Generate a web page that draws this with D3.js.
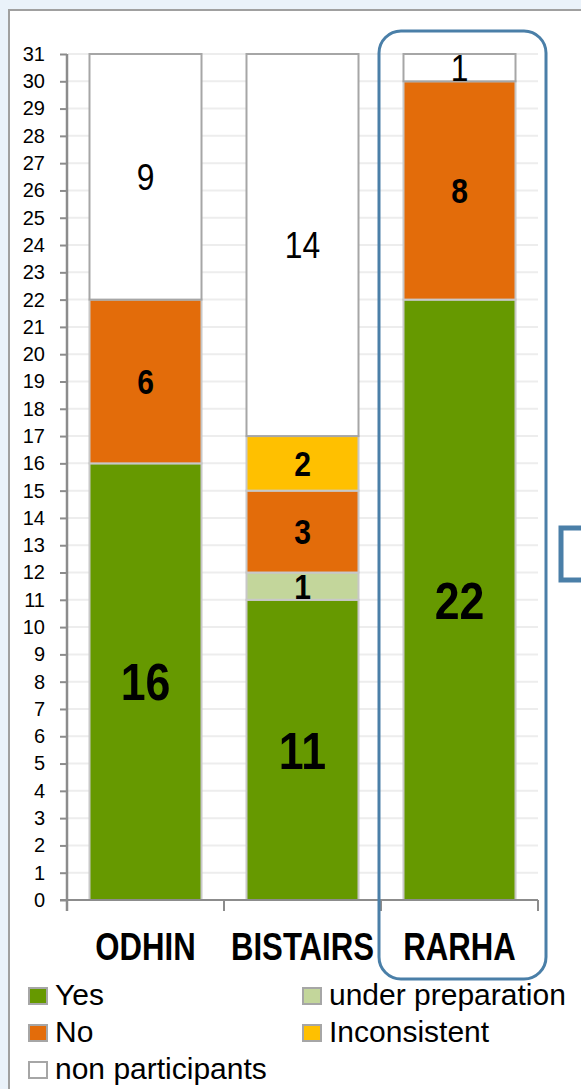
<!DOCTYPE html>
<html><head><meta charset="utf-8">
<script src="https://cdn.jsdelivr.net/npm/d3@7"></script>
<style>
html,body{margin:0;padding:0;background:#EAF2FA;}
svg{display:block;}
</style></head>
<body>
<svg id="chart" width="581" height="1089"></svg>
<script>
const categories = ["ODHIN", "BISTAIRS", "RARHA"];
const seriesNames = ["Yes", "under preparation", "No", "Inconsistent", "non participants"];
const yesValues = [16, 11, 22];
const underPrepValues = [0, 1, 0];
const noValues = [6, 3, 8];
const inconsistentValues = [0, 2, 0];
const nonParticipantValues = [9, 14, 1];
const yTickValues = d3.range(0, 32);
const seriesColors = ["#669900", "#C3D69B", "#E36C0A", "#FFC000", "#FFFFFF"];

const rows = categories.map((c, i) => ({
  category: c,
  "Yes": yesValues[i],
  "under preparation": underPrepValues[i],
  "No": noValues[i],
  "Inconsistent": inconsistentValues[i],
  "non participants": nonParticipantValues[i]
}));

const svg = d3.select("#chart");
const sans = "'Liberation Sans', Arial, sans-serif";

// panel
svg.append("rect").attr("x", 9).attr("y", 10).attr("width", 620).attr("height", 1120)
  .attr("fill", "#FFFFFF").attr("stroke", "#A0A0A0").attr("stroke-width", 2);

const x = d3.scaleBand().domain(categories).range([67, 538]).paddingInner(0.2866).paddingOuter(0.1433);
const y = d3.scaleLinear().domain([0, 31]).range([900, 54]);
const color = d3.scaleOrdinal().domain(seriesNames).range(seriesColors);

// gridlines
svg.append("g").selectAll("line").data(yTickValues.filter(v => v > 0)).join("line")
  .attr("x1", 68).attr("x2", 538).attr("y1", d => y(d)).attr("y2", d => y(d))
  .attr("stroke", "#EDEDED").attr("stroke-width", 2);

// stacked bars
const stacked = d3.stack().keys(seriesNames)(rows);
const layers = svg.append("g").selectAll("g").data(stacked).join("g")
  .attr("fill", d => color(d.key));
layers.selectAll("rect").data(d => d.filter(s => s[1] - s[0] > 0)).join("rect")
  .attr("x", d => x(d.data.category))
  .attr("width", x.bandwidth())
  .attr("y", d => y(d[1]))
  .attr("height", d => y(d[0]) - y(d[1]))
  .attr("stroke", function() { return d3.select(this.parentNode).datum().key === "non participants" ? "#A6A6A6" : "#C8C8C8"; })
  .attr("stroke-width", 2);

// labels (condensed look via horizontal scale)
const labelStyle = {
  "Yes": {size: 52, weight: "bold"},
  "under preparation": {size: 35, weight: "bold"},
  "No": {size: 35, weight: "bold"},
  "Inconsistent": {size: 35, weight: "bold"},
  "non participants": {size: 37, weight: "normal"}
};
stacked.forEach(layer => {
  const st = labelStyle[layer.key];
  svg.append("g").selectAll("text").data(layer.filter(s => s[1] - s[0] > 0)).join("text")
    .attr("transform", d => `translate(${x(d.data.category) + x.bandwidth() / 2},${(y(d[0]) + y(d[1])) / 2 + st.size * 0.36}) scale(0.86,1)`)
    .attr("text-anchor", "middle")
    .attr("font-family", sans)
    .attr("font-size", st.size)
    .attr("font-weight", st.weight)
    .attr("fill", "#000")
    .text(d => d[1] - d[0]);
});

// y axis
const yAxis = svg.append("g").attr("transform", "translate(67,0)")
  .call(d3.axisLeft(y).tickValues(yTickValues).tickSize(7).tickPadding(15).tickSizeOuter(0));
yAxis.select(".domain").attr("stroke", "#8C8C8C").attr("stroke-width", 2.5);
yAxis.selectAll(".tick line").attr("stroke", "#8C8C8C").attr("stroke-width", 2);
yAxis.selectAll(".tick text").attr("font-family", sans).attr("font-size", 20).attr("fill", "#000");
yAxis.select(".domain").attr("d", "M0," + y(31) + "V" + (y(0) + 11));

// x axis
const step = x.step();
const boundaries = categories.map(c => x(c) - step * x.paddingInner() / 2).concat([x(categories[2]) + x.bandwidth() + step * x.paddingInner() / 2]);
svg.append("line").attr("x1", 60).attr("x2", 538).attr("y1", y(0)).attr("y2", y(0))
  .attr("stroke", "#8C8C8C").attr("stroke-width", 2);
svg.append("g").selectAll("line").data(boundaries.slice(1)).join("line")
  .attr("x1", d => d).attr("x2", d => d).attr("y1", y(0)).attr("y2", y(0) + 11)
  .attr("stroke", "#8C8C8C").attr("stroke-width", 2);
svg.append("g").selectAll("text").data(categories).join("text")
  .attr("transform", d => `translate(${x(d) + x.bandwidth() / 2},960) scale(0.82,1)`)
  .attr("text-anchor", "middle")
  .attr("font-family", sans)
  .attr("font-size", 38)
  .attr("font-weight", "bold")
  .attr("fill", "#000")
  .text(d => d);

// highlight shapes
svg.append("rect").attr("x", 379).attr("y", 31).attr("width", 167).attr("height", 948)
  .attr("rx", 22).attr("fill", "none").attr("stroke", "#4A7FA8").attr("stroke-width", 3);
svg.append("rect").attr("x", 561).attr("y", 528).attr("width", 60).attr("height", 52)
  .attr("fill", "none").attr("stroke", "#4A7FA8").attr("stroke-width", 5);

// legend
const legendItems = [
  {name: "Yes", col: 0, row: 0},
  {name: "under preparation", col: 1, row: 0},
  {name: "No", col: 0, row: 1},
  {name: "Inconsistent", col: 1, row: 1},
  {name: "non participants", col: 0, row: 2}
];
const lg = svg.append("g").selectAll("g").data(legendItems).join("g")
  .attr("transform", d => `translate(${d.col === 0 ? 29 : 303},${988 + d.row * 37})`);
lg.append("rect").attr("width", 18).attr("height", 16)
  .attr("fill", d => color(d.name)).attr("stroke", "#A6A6A6").attr("stroke-width", 2);
lg.append("text").attr("x", 26).attr("y", 17)
  .attr("font-family", sans).attr("font-size", 30).attr("fill", "#000")
  .text(d => d.name);
</script>
</body></html>
